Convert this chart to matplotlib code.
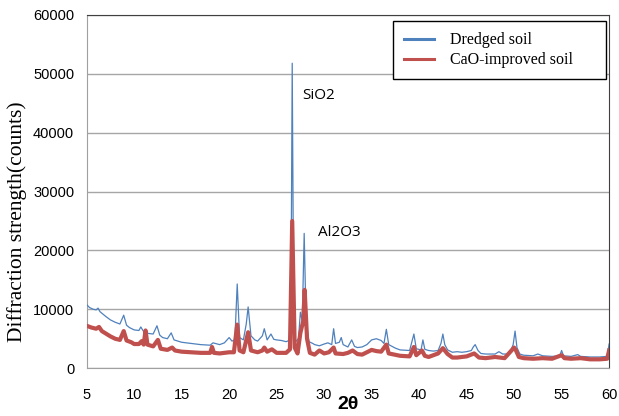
import matplotlib.pyplot as plt
from matplotlib.lines import Line2D

# 2theta / counts
dredged_x = [5.0, 5.3, 5.7, 6.0, 6.2, 6.4, 7.0, 7.5, 8.0, 8.5, 8.9, 9.2, 9.5, 10.0,
             10.5, 10.7, 11.0, 11.5, 12.0, 12.4, 12.7, 13.0, 13.5, 13.9, 14.2, 15.0,
             16.0, 17.0, 18.0, 18.3, 19.0, 19.5, 20.0, 20.3, 20.6, 20.85, 21.1, 21.5,
             21.8, 22.0, 22.3, 22.7, 23.0, 23.5, 23.7, 24.0, 24.4, 24.7, 25.0, 25.5,
             26.0, 26.3, 26.5, 26.64, 26.8, 27.0, 27.3, 27.5, 27.7, 27.9, 28.1, 28.4,
             28.8, 29.0, 29.5, 30.0, 30.4, 30.8, 31.0, 31.2, 31.6, 31.8, 32.0, 32.5,
             32.9, 33.2, 33.5, 34.0, 34.5, 35.0, 35.5, 36.0, 36.3, 36.55, 36.8, 37.5,
             38.0, 39.0, 39.45, 39.7, 40.2, 40.4, 40.6, 41.0, 41.5, 42.0, 42.3, 42.5,
             42.7, 43.0, 43.5, 44.0, 44.5, 45.0, 45.5, 45.7, 45.9, 46.2, 46.5, 47.0,
             48.0, 48.4, 48.8, 49.5, 49.9, 50.1, 50.3, 50.6, 51.0, 52.0, 52.5, 53.0,
             54.0, 54.8, 55.0, 55.2, 56.0, 56.7, 57.0, 58.0, 59.0, 59.8, 60.0]
dredged_y = [10800, 10300, 10000, 9900, 10200, 9600, 8800, 8200, 7800, 7500, 9000, 7300,
             6900, 6500, 6400, 7000, 6200, 5900, 5800, 7200, 5600, 5200, 5000, 6000,
             4800, 4400, 4200, 4000, 3900, 4300, 4000, 4300, 5200, 4600, 4800, 14300,
             5200, 4800, 7500, 10400, 5500, 4800, 4600, 5500, 6700, 4800, 5800, 4900,
             4800, 4700, 4500, 4700, 8000, 51800, 8000, 4500, 5000, 9500, 8000, 22900,
             8000, 4500, 4200, 4000, 3800, 4100, 4300, 4000, 6700, 4200, 4400, 5200,
             4000, 3600, 4800, 3700, 3500, 3600, 4000, 4800, 5000, 4700, 4200, 6600,
             4000, 3400, 3100, 3000, 5800, 3300, 3100, 4800, 3200, 3000, 2900, 3000,
             4200, 5800, 4000, 3100, 2700, 2800, 2700, 2800, 3000, 3600, 4000, 3000,
             2500, 2400, 2400, 2800, 2400, 2400, 4000, 6300, 3500, 2400, 2200, 2100,
             2400, 2100, 2000, 2100, 3000, 2100, 2000, 2300, 2000, 1900, 1900, 2000, 4100]

cao_x = [5.0, 5.5, 6.0, 6.3, 6.6, 7.0, 7.5, 8.0, 8.5, 8.9, 9.2, 9.7, 10.0, 10.5, 10.8,
         11.0, 11.2, 11.4, 12.0, 12.5, 12.8, 13.5, 14.0, 14.3, 15.0, 16.0, 17.0, 18.0,
         18.2, 18.4, 19.0, 20.0, 20.5, 20.85, 21.1, 21.5, 22.0, 22.3, 23.0, 23.5, 23.7,
         24.0, 24.5, 25.0, 26.0, 26.4, 26.64, 26.9, 27.2, 27.5, 27.8, 27.95, 28.2, 28.5,
         29.0, 29.5, 30.0, 30.5, 31.0, 31.2, 32.0, 32.5, 33.0, 33.5, 34.0, 35.0, 35.5,
         36.0, 36.55, 36.8, 38.0, 39.0, 39.45, 39.7, 40.3, 40.6, 41.0, 42.0, 42.5, 43.0,
         43.5, 44.0, 45.0, 45.8, 46.3, 47.0, 48.0, 49.0, 50.0, 50.2, 50.5, 51.0, 52.0,
         53.0, 54.0, 55.0, 55.3, 56.0, 57.0, 58.0, 59.0, 59.8, 60.0]
cao_y = [7200, 6900, 6700, 7000, 6300, 5900, 5400, 5000, 4800, 6300, 4700, 4400, 4100,
         4100, 4600, 4000, 6400, 4000, 3700, 4800, 3300, 3100, 3500, 3000, 2800, 2700,
         2600, 2600, 3600, 2600, 2500, 2700, 2700, 7400, 3000, 2700, 6100, 3000, 2700,
         3000, 3500, 2800, 3200, 2600, 2600, 3200, 25000, 3500, 2500, 6000, 8000, 13300,
         5000, 2600, 2300, 3000, 2500, 2700, 3500, 2500, 2400, 2600, 3000, 2400, 2300,
         3100, 2900, 2800, 4000, 2500, 2100, 2000, 3600, 2200, 3000, 2100, 1900, 2500,
         3400, 2400, 1800, 1800, 2000, 2500, 1800, 1700, 1900, 1700, 3500, 3000, 1900,
         1700, 1600, 1700, 1600, 2200, 1700, 1600, 1700, 1500, 1500, 1600, 3000]

BLUE = "#4f81bd"
RED = "#c0504d"

fig = plt.figure(figsize=(6.19, 4.16), dpi=100)
ax = fig.add_axes([0.140, 0.115, 0.844, 0.849])

ax.plot(dredged_x, dredged_y, color=BLUE, linewidth=0.9, zorder=3)
ax.plot(cao_x, cao_y, color=RED, linewidth=3.0, solid_joinstyle="round", zorder=4)

ax.set_xlim(5, 60)
ax.set_ylim(0, 60000)
ax.set_xticks(range(5, 61, 5))
ax.set_yticks(range(0, 60001, 10000))
ax.yaxis.grid(True, color="#a6a6a6", linewidth=1.0)
ax.set_axisbelow(True)
ax.tick_params(length=0, labelsize=10.5)
ax.tick_params(axis="x", pad=14)
ax.tick_params(axis="y", pad=9)
for lab in ax.get_xticklabels() + ax.get_yticklabels():
    lab.set_family("Liberation Sans")

for side in ["left", "bottom"]:
    ax.spines[side].set_color("#a0a0a0")
for side in ["top", "right"]:
    ax.spines[side].set_color("#404040")

ax.text(27.65, 46300, "SiO2", fontsize=11, family="Open Sans", va="center")
ax.text(29.35, 23000, "Al2O3", fontsize=11, family="Open Sans", va="center")

fig.text(0.5625, 0.028, "2θ", fontsize=14, fontweight="bold",
         family="Liberation Sans", ha="center", va="center")
fig.text(0.027, 0.466, "Diffraction strength(counts)", fontsize=15.5,
         family="Liberation Serif", rotation=90, ha="center", va="center")

# legend box is much wider than its entries in the original
handles = [Line2D([], [], color=BLUE, linewidth=2.2),
           Line2D([], [], color=RED, linewidth=2.2)]
leg = ax.legend(handles, ["Dredged soil", "CaO-improved soil"],
                loc="upper left", bbox_to_anchor=(0.586, 0.83, 0.408, 0.153),
                mode="expand",
                prop={"family": "Liberation Serif", "size": 11.5},
                fancybox=False, edgecolor="black", framealpha=1,
                borderpad=0.7, handlelength=1.9, handletextpad=0.95,
                labelspacing=0.25, borderaxespad=0)
leg.get_frame().set_linewidth(1.0)
leg.set_zorder(10)

plt.savefig("out.png", dpi=100)
plt.close(fig)
